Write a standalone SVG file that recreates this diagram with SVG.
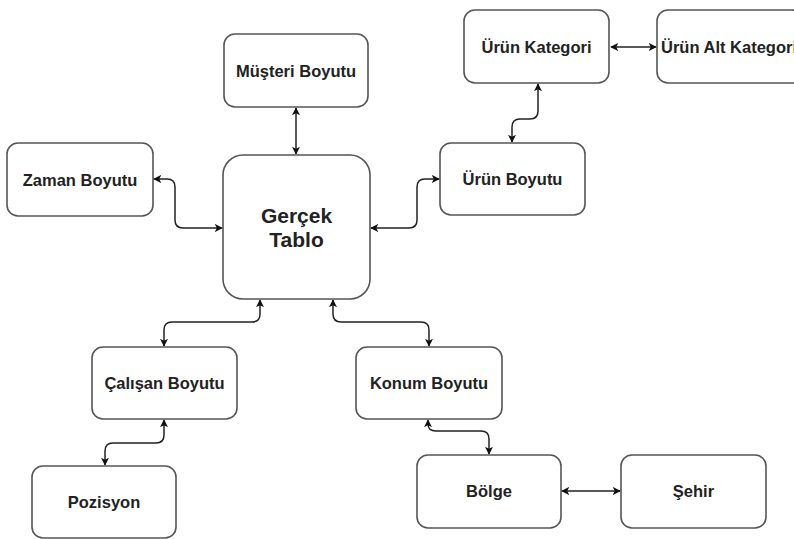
<svg xmlns="http://www.w3.org/2000/svg" width="794" height="539" viewBox="0 0 794 539">
<defs>
<marker id="ah" viewBox="0 0 10 10" refX="9" refY="5" markerWidth="8" markerHeight="8" markerUnits="userSpaceOnUse" orient="auto-start-reverse">
<path d="M0,0 L10,5 L0,10 L2.5,5 Z" fill="#111"/>
</marker>
</defs>
<style>
.box{fill:#fff;stroke:#555;stroke-width:1.6}
.t{font-family:"Liberation Sans",Arial,sans-serif;font-weight:bold;font-size:16.5px;fill:#222;text-anchor:middle;dominant-baseline:central}
.big{font-size:21px}
.c{fill:none;stroke:#222;stroke-width:1.5;marker-start:url(#ah);marker-end:url(#ah)}
</style>
<rect width="794" height="539" fill="#fff"/>
<g id="connectors">
<path class="c" d="M296,108 L296,154"/>
<path class="c" d="M154,179 L167,179 Q175,179 175,187 L175,220 Q175,228 183,228 L222,228"/>
<path class="c" d="M371,228 L409,228 Q417,228 417,220 L417,187 Q417,179 425,179 L439,179"/>
<path class="c" d="M538,84 L538,111 Q538,119 530,119 L520,119 Q512,119 512,127 L512,142"/>
<path class="c" d="M611,47 L656,47"/>
<path class="c" d="M260,300 L260,314 Q260,322 252,322 L172,322 Q164,322 164,330 L164,346"/>
<path class="c" d="M164,420 L164,435 Q164,443 156,443 L113,443 Q105,443 105,451 L105,465"/>
<path class="c" d="M333,300 L333,314 Q333,322 341,322 L421,322 Q429,322 429,330 L429,346"/>
<path class="c" d="M428,420 L428,424 Q428,431 436,431 L481,431 Q489,431 489,439 L489,454"/>
<path class="c" d="M562,491 L620,491"/>
</g>
<g id="musteri"><rect class="box" x="224" y="34" width="144" height="73" rx="11"/><text class="t" x="296" y="71">Müşteri Boyutu</text></g>
<g id="gercek"><rect class="box" x="223" y="155" width="147" height="144" rx="20"/><text class="t big" x="296.5" y="215">Gerçek</text><text class="t big" x="296.5" y="239">Tablo</text></g>
<g id="zaman"><rect class="box" x="7" y="143" width="146" height="73" rx="11"/><text class="t" x="80" y="180">Zaman Boyutu</text></g>
<g id="urun"><rect class="box" x="440" y="143" width="145" height="72" rx="11"/><text class="t" x="512.5" y="179">Ürün Boyutu</text></g>
<g id="urunkat"><rect class="box" x="464" y="10" width="145" height="73" rx="11"/><text class="t" x="536.5" y="47">Ürün Kategori</text></g>
<g id="urunalt"><rect class="box" x="657" y="10" width="146" height="73" rx="11"/><text class="t" x="729" y="47">Ürün Alt Kategori</text></g>
<g id="calisan"><rect class="box" x="92" y="347" width="145" height="72" rx="11"/><text class="t" x="164.5" y="383">Çalışan Boyutu</text></g>
<g id="pozisyon"><rect class="box" x="32" y="466" width="144" height="72" rx="11"/><text class="t" x="104" y="502">Pozisyon</text></g>
<g id="konum"><rect class="box" x="356" y="347" width="146" height="72" rx="11"/><text class="t" x="429" y="383">Konum Boyutu</text></g>
<g id="bolge"><rect class="box" x="417" y="455" width="144" height="73" rx="11"/><text class="t" x="489" y="491">Bölge</text></g>
<g id="sehir"><rect class="box" x="621" y="455" width="145" height="73" rx="11"/><text class="t" x="693.5" y="491">Şehir</text></g>
</svg>
